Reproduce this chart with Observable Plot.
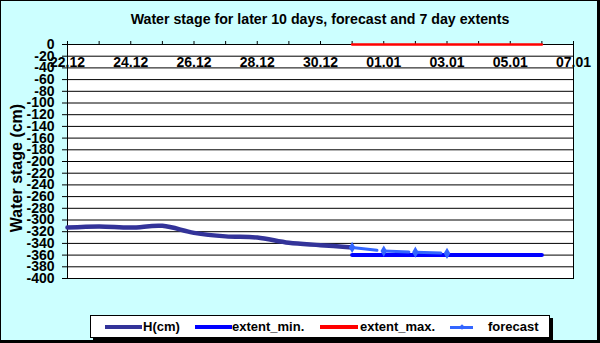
<!DOCTYPE html>
<html>
<head>
<meta charset="utf-8">
<script src="https://cdn.jsdelivr.net/npm/d3@7"></script>
<script src="https://cdn.jsdelivr.net/npm/@observablehq/plot@0.6"></script>
<style>
  html, body { margin: 0; padding: 0; background: #ccffff; }
  #wrap { position: relative; width: 600px; height: 343px; background: #ccffff; overflow: hidden; font-family: "Liberation Sans", Arial, sans-serif; }
  #wrap svg { position: absolute; left: 0; top: 0; }
  #border { position: absolute; left: 0; top: 0; width: 600px; height: 343px; box-sizing: border-box; border-left: 1px solid #000; border-top: 1px solid #000; border-right: 3px solid #000; border-bottom: 3px solid #000; pointer-events: none; }
  #title { position: absolute; left: 320px; top: 11px; transform: translateX(-50%); white-space: nowrap; font-weight: bold; font-size: 14.2px; color: #000; }
  #ylabel { position: absolute; left: 17px; top: 168px; transform: translate(-50%, -50%) rotate(-90deg); white-space: nowrap; font-weight: bold; font-size: 16px; color: #000; }
  #legend { position: absolute; left: 90px; top: 315px; width: 460px; height: 23px; box-sizing: border-box; background: #fff; border: 1px solid #000; box-shadow: 3px 3px 0 #000; }
  .lg-line { position: absolute; height: 4px; top: 9px; }
  .lg-text { position: absolute; top: 3px; font-size: 13px; font-weight: bold; white-space: nowrap; color: #000; }
</style>
</head>
<body>
<div id="wrap">
  <div id="chart"></div>
  <div id="title">Water stage for later 10 days, forecast and 7 day extents</div>
  <div id="ylabel">Water stage (cm)</div>
  <div id="legend"></div>
  <div id="border"></div>
</div>
<script>
// ---- data ----
const hDates = ["2023-12-22","2023-12-23","2023-12-24","2023-12-25","2023-12-26","2023-12-27","2023-12-28","2023-12-29","2023-12-30","2023-12-31"];
const hValues = [-313, -311, -313, -310, -322, -328, -330, -339, -343, -347];
const forecastDates = ["2023-12-31","2024-01-01","2024-01-02","2024-01-03"];
const forecastValues = [-347, -353, -355, -357];
const extentDates = ["2023-12-31","2024-01-06"];
const extentMinValues = [-360, -360];
const extentMaxValues = [0, 0];
const xTickLabels = ["2023-12-22","2023-12-24","2023-12-26","2023-12-28","2023-12-30","2024-01-01","2024-01-03","2024-01-05","2024-01-07"];
const yTicks = d3.range(-400, 1, 20);
const seriesNames = ["H(cm)", "extent_min.", "extent_max.", "forecast"];
const seriesColors = ["#333399", "#0000ff", "#ff0000", "#3366ff"];

const parse = d3.utcParse("%Y-%m-%d");
const H = hDates.map((d, i) => ({date: parse(d), value: hValues[i]}));
const F = forecastDates.map((d, i) => ({date: parse(d), value: forecastValues[i]}));
const EMin = extentDates.map((d, i) => ({date: parse(d), value: extentMinValues[i]}));
const EMax = extentDates.map((d, i) => ({date: parse(d), value: extentMaxValues[i]}));
const xLabelDates = xTickLabels.map(parse);
const xDomain = [xLabelDates[0], xLabelDates[xLabelDates.length - 1]];
const dayTicks = d3.utcDay.range(xDomain[0], d3.utcDay.offset(xDomain[1], 1));
const fmt = d3.utcFormat("%d.%m");

const plot = Plot.plot({
  width: 600,
  height: 343,
  marginLeft: 67,
  marginRight: 27,
  marginTop: 44,
  marginBottom: 65,
  style: {background: "transparent", fontFamily: "Liberation Sans, Arial, sans-serif", color: "#000"},
  x: {type: "utc", domain: xDomain},
  y: {domain: [-400, 0]},
  marks: [
    Plot.frame({fill: "white"}),
    Plot.gridY(yTicks, {stroke: "black", strokeOpacity: 1, strokeWidth: 1}),
    Plot.axisY({ticks: yTicks, tickSize: 5, tickPadding: 8, tickFormat: d => String(d), label: null, fontSize: 14, fontWeight: "bold", stroke: "black"}),
    Plot.axisX({anchor: "top", ticks: dayTicks, tickSize: 4, tickFormat: () => "", label: null}),
    Plot.axisX({anchor: "top", ticks: xLabelDates, tickSize: 0, tickPadding: -22, tickFormat: fmt, label: null, fontSize: 14, fontWeight: "bold"}),
    Plot.frame({stroke: "black", strokeWidth: 1}),
    Plot.line(H, {x: "date", y: "value", stroke: seriesColors[0], strokeWidth: 4.5, curve: "catmull-rom"}),
    Plot.line(EMin, {x: "date", y: "value", stroke: seriesColors[1], strokeWidth: 4}),
    Plot.line(EMax, {x: "date", y: "value", stroke: seriesColors[2], strokeWidth: 2.5}),
    Plot.line(F, {x: "date", y: "value", stroke: seriesColors[3], strokeWidth: 3, strokeDasharray: "25,7"}),
    Plot.dot(F, {x: "date", y: "value", symbol: "diamond", r: 2.5, fill: seriesColors[3], stroke: seriesColors[3]})
  ]
});
document.getElementById("chart").appendChild(plot);

// ---- legend ----
const legend = document.getElementById("legend");
const lgLines = [[14, 37], [104, 37], [229, 38], [359, 23]];
const lgTexts = [52, 141, 269, 397];
seriesNames.forEach((name, i) => {
  const l = document.createElement("div");
  l.className = "lg-line";
  l.style.left = lgLines[i][0] + "px";
  l.style.width = lgLines[i][1] + "px";
  l.style.background = seriesColors[i];
  if (i === 3) { l.style.height = "3px"; l.style.top = "9.5px"; }
  legend.appendChild(l);
  if (i === 3) {
    const m = document.createElement("div");
    m.style.position = "absolute";
    m.style.left = (lgLines[i][0] + lgLines[i][1] / 2 - 2) + "px";
    m.style.top = "8.5px";
    m.style.width = "4px"; m.style.height = "4px";
    m.style.background = seriesColors[i];
    m.style.transform = "rotate(45deg)";
    legend.appendChild(m);
  }
  const t = document.createElement("div");
  t.className = "lg-text";
  t.style.left = lgTexts[i] + "px";
  t.textContent = name;
  legend.appendChild(t);
});
</script>
</body>
</html>
